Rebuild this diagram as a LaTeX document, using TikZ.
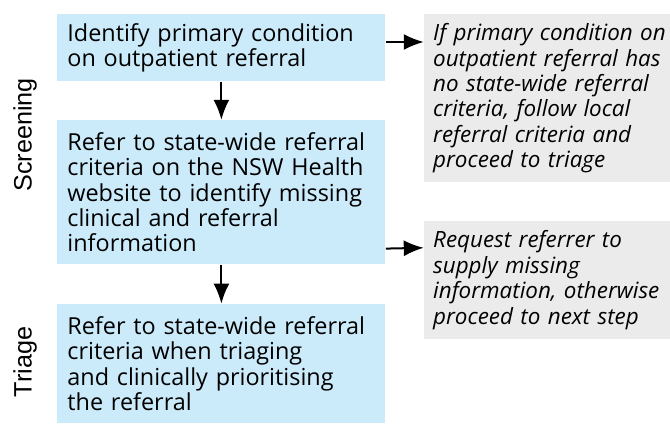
\documentclass[tikz,border=0pt]{standalone}
\usepackage{fontspec}
\setmainfont{Open Sans}
\newfontfamily\labelfont{Liberation Sans}
\usetikzlibrary{arrows.meta}
\usetikzlibrary{positioning}
\definecolor{stepblue}{RGB}{204,235,250}
\definecolor{notegrey}{RGB}{235,235,235}
\tikzstyle{stepbox} = [rectangle, fill=stepblue, text width=154pt, inner xsep=5pt, inner ysep=0pt, align=left, font=\fontsize{11.7}{12.7}\selectfont]
\tikzstyle{notebox} = [rectangle, fill=notegrey, text width=121pt, inner xsep=4.5pt, inner ysep=0pt, align=left, font=\fontsize{11.2}{12.7}\selectfont\itshape]
\tikzstyle{stage} = [rotate=90, font=\labelfont\fontsize{12.6}{14}\selectfont]
\tikzstyle{arrow} = [line width=1pt,-{Latex[length=10pt,width=8pt]}]

\begin{document}
\begin{tikzpicture}[node distance=19pt]
\useasboundingbox (0,0) rectangle (335pt,-214pt);
% steps
\node (box1) [stepbox, minimum height=33.5pt, anchor=north west] at (28.5pt,-7pt) {Identify primary condition\\on outpatient referral};
\node (box2) [stepbox, minimum height=72pt, below=of box1] {Refer to state-wide referral\\criteria on the NSW Health\\website to identify missing\\clinical and referral\\information};
\node (box3) [stepbox, minimum height=59.5pt, below=19.5pt of box2] {Refer to state-wide referral\\criteria when triaging\\and clinically prioritising\\the referral};
% notes
\node (note1) [notebox, minimum height=84pt, anchor=north west] at ([xshift=19pt]box1.north east) {If primary condition on\\outpatient referral has\\no state-wide referral\\criteria, follow local\\referral criteria and\\proceed to triage};
\node (note2) [notebox, minimum height=59pt, below=of note1] {Request referrer to\\supply missing\\information, otherwise\\proceed to next step};
% stages
\node (screening) [stage] at (12.5pt,-67.5pt) {Screening};
\node (triage) [stage] at (12.5pt,-181pt) {Triage};
\draw [arrow] (box1) -- (box2);
\draw [arrow] (box2) -- (box3);
\draw [arrow] ([yshift=-14pt]box1.north east) -- ([yshift=-14pt]note1.north west);
\draw [arrow] ([yshift=8pt]box2.south east) -- ([yshift=-13.5pt]note2.north west);
\end{tikzpicture}
\end{document}
